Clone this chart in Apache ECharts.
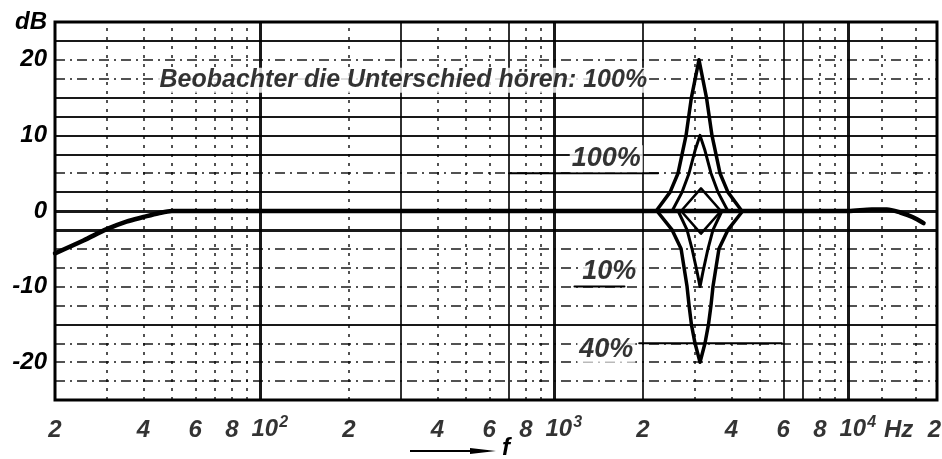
<!DOCTYPE html>
<html><head><meta charset="utf-8">
<script src="https://cdn.jsdelivr.net/npm/echarts@6/dist/echarts.min.js"></script>
<style>html,body{margin:0;padding:0;background:#fff}#c{width:942px;height:459px}</style>
</head><body><div id="c"></div>
<script>
// ---- data ----
const responseFreq = [20, 25, 30, 35, 40, 45, 50, 100, 1000, 2217, 3100, 4338, 10000, 12000, 13500, 15000, 16500, 18000];
const responseDb   = [-5.6, -3.9, -2.4, -1.4, -0.8, -0.3, 0, 0, 0, 0, 0, 0, 0, 0.2, 0.2, -0.2, -0.8, -1.6];

const peak20Freq = [2217, 2473, 2632, 2802, 2922, 3101, 3288, 3433, 3655, 3889, 4338];
const peak20Db   = [0, 2.5, 5, 10, 15, 20, 15, 10, 5, 2.5, 0];

const peak10Freq = [2512, 2716, 2869, 3006, 3126, 3250, 3406, 3597, 3889];
const peak10Db   = [0, 2.5, 5, 8, 10, 8, 5, 2.5, 0];

const dip10Freq = [2633, 2824, 2936, 3053, 3126, 3200, 3327, 3460, 3711];
const dip10Db   = [0, -2.5, -5, -8, -10, -8, -5, -2.5, 0];

const dip20Freq = [2232, 2512, 2695, 2824, 2869, 2922, 3006, 3126, 3250, 3340, 3406, 3460, 3626, 3889, 4366];
const dip20Db   = [0, -2.5, -5, -10, -12.5, -15, -17.5, -20, -17.5, -15, -12.5, -10, -5, -2.5, 0];

const smallFreq = [2695, 3150, 3683, 3150, 2695];
const smallDb   = [0, 3, 0, -3, 0];

const lead100Freq = [700, 2250];  const lead100Db = [5, 5];
const lead10Freq  = [1169, 1730]; const lead10Db  = [-10, -10];
const lead40Freq  = [1941, 5933]; const lead40Db  = [-17.5, -17.5];

const noteTexts = ['Beobachter die Unterschied hören: 100%', '100%', '10%', '40%'];
const noteFreq  = [306, 1500, 1536, 1500];
const noteDb    = [17.3, 6.9, -8, -18.3];

const xTickValues = [20, 40, 60, 80, 100, 200, 400, 600, 800, 1000, 2000, 4000, 6000, 8000, 10000, 14800, 20000];
const xTickLabels = ['2', '4', '6', '8', '10²', '2', '4', '6', '8', '10³', '2', '4', '6', '8', '10⁴', 'Hz', '2'];

const hGridBold   = [0, -2.5];
const hGridSolid  = [22.5, 15, 12.5, 10, 7.5, 2.5, -15];
const hGridDashed = [20, 17.5, 5, -5, -7.5, -10, -12.5, -17.5, -20, -22.5];
const vGridDecade = [100, 1000, 10000];
const vGridSolid  = [300, 700, 2000, 6000, 7000];
const vGridDotted = [30, 40, 50, 60, 70, 80, 90, 200, 400, 500, 600, 800, 900, 3000, 4000, 5000, 8000, 9000, 13000, 17000];

// ---- chart ----
const FONT = "'Liberation Sans Narrow', 'Liberation Sans', sans-serif";
const SUP = { '²': '2', '³': '3', '⁴': '4' };
const pts = (fs, ds) => fs.map((f, i) => [f, ds[i]]);
const supFormat = s => s.replace(/[²³⁴]/g, c => '{s|' + SUP[c] + '}');

function gridSeries(xs, ys, width, type) {
  return {
    type: 'line', data: [], silent: true, z: 1,
    markLine: {
      silent: true, symbol: ['none', 'none'], label: { show: false },
      animation: false,
      lineStyle: { color: '#000', width: width, type: type, opacity: 0.9 },
      data: xs.map(v => ({ xAxis: v })).concat(ys.map(v => ({ yAxis: v })))
    }
  };
}
function curve(fs, ds, width, smooth) {
  return {
    type: 'line', data: pts(fs, ds), showSymbol: false, smooth: smooth || false,
    z: 5, silent: true, clip: false,
    lineStyle: { color: '#000', width: width, cap: 'round', join: 'round' }
  };
}

const chart = echarts.init(document.getElementById('c'), null, { renderer: 'canvas' });
chart.setOption({
  animation: false,
  backgroundColor: '#fff',
  grid: { left: 55, right: 5, top: 22, bottom: 59, show: true, borderColor: '#000', borderWidth: 3, backgroundColor: 'transparent' },
  xAxis: {
    type: 'log', logBase: 10, min: 20, max: 20000,
    axisLabel: { show: false }, axisTick: { show: false }, axisLine: { show: false },
    splitLine: { show: false }, minorSplitLine: { show: false }
  },
  yAxis: {
    type: 'value', min: -25, max: 25, interval: 5,
    axisLine: { show: false }, axisTick: { show: false }, splitLine: { show: false },
    axisLabel: {
      margin: 8, fontSize: 24, fontStyle: 'italic', fontWeight: 'bold', color: '#000', fontFamily: FONT,
      formatter: v => (v === 25 ? 'dB' : (v % 10 === 0 ? String(v) : ''))
    }
  },
  graphic: [
    { type: 'line', shape: { x1: 410, y1: 451, x2: 488, y2: 451 }, style: { stroke: '#000', lineWidth: 2 } },
    { type: 'polygon', shape: { points: [[470, 448], [496, 451], [470, 454]] }, style: { fill: '#000' } },
    { type: 'text', left: 502, top: 436, style: { text: 'f', fontSize: 24, fontStyle: 'italic', fontWeight: 'bold', fontFamily: FONT, fill: '#000' } }
  ],
  series: [
    gridSeries(vGridDotted, [], 1.5, [3, 6]),
    gridSeries([], hGridDashed, 1.6, [10, 5, 2, 5]),
    gridSeries(vGridSolid, hGridSolid, 1.8, 'solid'),
    gridSeries(vGridDecade, hGridBold, 3, 'solid'),
    curve(responseFreq, responseDb, 4.5, 0.3),
    curve(peak20Freq, peak20Db, 3.5),
    curve(peak10Freq, peak10Db, 3),
    curve(dip10Freq, dip10Db, 3),
    curve(dip20Freq, dip20Db, 3.5),
    curve(smallFreq, smallDb, 2.5),
    curve(lead100Freq, lead100Db, 2),
    curve(lead10Freq, lead10Db, 2),
    curve(lead40Freq, lead40Db, 2),
    {
      type: 'scatter', symbolSize: 0, silent: true, z: 6,
      data: noteTexts.map((t, i) => ({
        value: [noteFreq[i], noteDb[i]], name: t,
        label: i === 0 ? { fontSize: 25 } : {}
      })),
      label: {
        show: true, position: 'inside', formatter: p => p.name, color: '#000',
        fontSize: 27, fontStyle: 'italic', fontWeight: 'bold', fontFamily: FONT,
        backgroundColor: '#fff', padding: [0, 2]
      }
    },
    {
      type: 'scatter', symbolSize: 0, silent: true, z: 6, clip: false,
      data: xTickValues.map((v, i) => {
        const lbl = xTickLabels[i];
        let extra = {};
        if (i === xTickValues.length - 1) extra = { align: 'right', offset: [4, 0] };
        else if (lbl.indexOf('10') === 0) extra = { align: 'left', offset: [-9, -3] };
        return { value: [v, -25], name: lbl, label: extra };
      }),
      label: {
        show: true, position: 'bottom', distance: 18, formatter: p => supFormat(p.name), color: '#000',
        fontSize: 24, fontStyle: 'italic', fontWeight: 'bold', fontFamily: FONT,
        rich: {
          s: { fontSize: 16, fontStyle: 'italic', fontWeight: 'bold', fontFamily: FONT, color: '#000', padding: [0, 0, 12, 1] }
        }
      }
    }
  ]
});
</script>
</body></html>
